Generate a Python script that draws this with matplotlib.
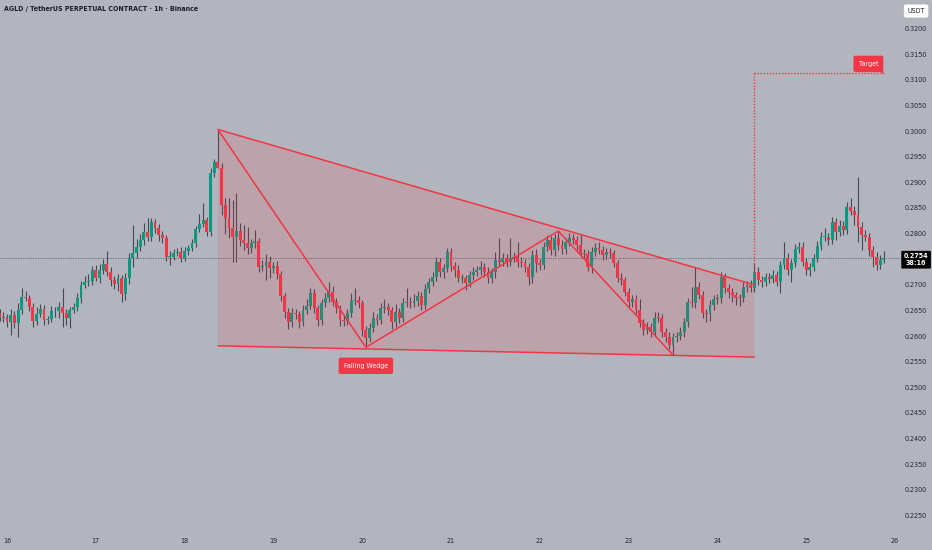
import matplotlib
matplotlib.use("Agg")
import matplotlib.pyplot as plt
from matplotlib.patches import Polygon
import numpy as np

plt.rcParams['font.family'] = ['DejaVu Sans']
plt.rcParams['font.stretch'] = 'condensed'

# ---------------- data ----------------
title = "AGLD / TetherUS PERPETUAL CONTRACT · 1h · Binance"
first_open = 0.2646
closes = [
    0.2637, 0.2638, 0.2629, 0.2642, 0.2627, 0.2652, 0.2677, 0.2676, 0.2658, 0.2631, 0.2644, 0.2654,
    0.2633, 0.2635, 0.2650, 0.2649, 0.2658, 0.2646, 0.2637, 0.2652, 0.2658, 0.2676, 0.2701, 0.2707,
    0.2709, 0.2730, 0.2715, 0.2730, 0.2742, 0.2726, 0.2711, 0.2703, 0.2715, 0.2683, 0.2715, 0.2754,
    0.2763, 0.2775, 0.2789, 0.2804, 0.2794, 0.2824, 0.2812, 0.2798, 0.2793, 0.2755, 0.2756, 0.2763,
    0.2765, 0.2754, 0.2767, 0.2773, 0.2783, 0.2810, 0.2820, 0.2828, 0.2804, 0.2919, 0.2941, 0.2929,
    0.2857, 0.2831, 0.2812, 0.2794, 0.2806, 0.2789, 0.2783, 0.2773, 0.2783, 0.2787, 0.2736, 0.2738,
    0.2746, 0.2734, 0.2738, 0.2722, 0.2679, 0.2648, 0.2629, 0.2646, 0.2644, 0.2629, 0.2652, 0.2660,
    0.2685, 0.2656, 0.2633, 0.2666, 0.2676, 0.2687, 0.2668, 0.2656, 0.2633, 0.2631, 0.2646, 0.2670,
    0.2672, 0.2666, 0.2613, 0.2598, 0.2617, 0.2637, 0.2633, 0.2656, 0.2658, 0.2652, 0.2629, 0.2648,
    0.2637, 0.2666, 0.2668, 0.2665, 0.2670, 0.2679, 0.2662, 0.2693, 0.2707, 0.2716, 0.2746, 0.2726,
    0.2734, 0.2765, 0.2738, 0.2730, 0.2715, 0.2714, 0.2705, 0.2720, 0.2726, 0.2730, 0.2736, 0.2726,
    0.2715, 0.2726, 0.2750, 0.2746, 0.2754, 0.2746, 0.2754, 0.2755, 0.2746, 0.2744, 0.2736, 0.2716,
    0.2759, 0.2744, 0.2740, 0.2775, 0.2789, 0.2769, 0.2793, 0.2779, 0.2771, 0.2785, 0.2793, 0.2789,
    0.2779, 0.2763, 0.2762, 0.2736, 0.2765, 0.2773, 0.2769, 0.2759, 0.2765, 0.2763, 0.2744, 0.2715,
    0.2711, 0.2687, 0.2668, 0.2674, 0.2652, 0.2627, 0.2613, 0.2619, 0.2609, 0.2637, 0.2636, 0.2609,
    0.2599, 0.2584, 0.2599, 0.2601, 0.2609, 0.2629, 0.2668, 0.2666, 0.2697, 0.2681, 0.2646, 0.2645,
    0.2662, 0.2674, 0.2676, 0.2716, 0.2695, 0.2687, 0.2681, 0.2676, 0.2675, 0.2697, 0.2701, 0.2695,
    0.2726, 0.2711, 0.2707, 0.2716, 0.2713, 0.2720, 0.2707, 0.2740, 0.2754, 0.2730, 0.2744, 0.2771,
    0.2775, 0.2746, 0.2730, 0.2736, 0.2754, 0.2777, 0.2794, 0.2795, 0.2789, 0.2824, 0.2804, 0.2816,
    0.2808, 0.2853, 0.2845, 0.2837, 0.2814, 0.2798, 0.2794, 0.2769, 0.2755, 0.2740, 0.2750, 0.2754,
]
# upper / lower wick lengths in units of 0.0001
wick_up = [
    8, 10, 6, 12, 8, 14, 18, 12, 6, 8, 14, 10,
    8, 6, 10, 8, 10, 37, 8, 6, 8, 10, 8, 12,
    14, 8, 10, 12, 10, 25, 10, 8, 8, 6, 10, 10,
    55, 15, 12, 18, 27, 8, 6, 8, 8, 6, 10, 8,
    8, 10, 8, 6, 8, 6, 20, 33, 6, 10, 6, 63,
    10, 14, 40, 54, 74, 15, 29, 30, 8, 20, 6, 12,
    15, 12, 8, 10, 6, 6, 8, 10, 8, 6, 10, 14,
    10, 8, 6, 8, 10, 20, 12, 8, 6, 8, 8, 15,
    23, 8, 6, 8, 10, 10, 8, 10, 15, 8, 6, 15,
    8, 10, 27, 10, 14, 10, 8, 10, 8, 10, 10, 8,
    8, 8, 8, 8, 10, 8, 6, 8, 10, 8, 12, 8,
    10, 8, 15, 43, 10, 8, 39, 10, 30, 10, 8, 8,
    10, 12, 8, 10, 10, 8, 8, 13, 10, 8, 10, 8,
    8, 21, 8, 6, 10, 10, 12, 8, 8, 8, 6, 6,
    10, 6, 8, 8, 8, 22, 8, 10, 8, 10, 10, 8,
    8, 10, 8, 8, 10, 8, 8, 29, 39, 10, 8, 8,
    10, 8, 8, 10, 8, 8, 8, 6, 8, 10, 8, 10,
    18, 10, 8, 8, 8, 10, 8, 8, 31, 10, 8, 10,
    10, 10, 8, 8, 8, 10, 10, 17, 8, 10, 8, 12,
    10, 10, 18, 10, 74, 10, 10, 8, 8, 10, 10, 12,
]
wick_dn = [
    6, 8, 10, 26, 10, 28, 8, 6, 8, 12, 8, 6,
    10, 8, 6, 10, 12, 27, 14, 20, 6, 8, 10, 6,
    8, 8, 6, 10, 8, 8, 12, 10, 14, 16, 12, 12,
    18, 10, 8, 10, 8, 8, 10, 12, 10, 8, 15, 6,
    6, 8, 6, 8, 6, 8, 6, 6, 8, 8, 8, 0,
    20, 30, 20, 48, 48, 12, 15, 12, 10, 10, 10, 8,
    27, 20, 10, 10, 10, 12, 15, 10, 10, 12, 8, 8,
    6, 10, 12, 10, 8, 8, 8, 10, 12, 10, 8, 8,
    8, 10, 12, 19, 8, 8, 10, 8, 10, 10, 14, 10,
    10, 8, 8, 10, 8, 10, 10, 8, 8, 8, 8, 10,
    12, 8, 10, 14, 8, 10, 14, 8, 10, 8, 10, 10,
    10, 11, 11, 8, 8, 10, 8, 8, 10, 8, 10, 15,
    12, 18, 10, 8, 8, 10, 12, 10, 10, 10, 8, 8,
    10, 8, 10, 8, 12, 8, 8, 10, 8, 10, 8, 8,
    10, 8, 10, 10, 8, 8, 10, 8, 10, 8, 8, 10,
    10, 8, 20, 10, 8, 10, 10, 8, 10, 8, 10, 16,
    15, 10, 10, 10, 10, 12, 14, 14, 15, 8, 10, 8,
    8, 10, 10, 8, 8, 8, 8, 22, 8, 10, 23, 8,
    8, 8, 10, 12, 8, 8, 8, 8, 10, 8, 15, 8,
    10, 8, 8, 20, 29, 29, 8, 12, 20, 10, 8, 6,
]
day_labels = ['16', '17', '18', '19', '20', '21', '22', '23', '24', '25', '26']
day_first_index = 2          # candle index of day 16, 00:00
bars_per_day = 24
# 0.2750 is hidden behind the last-price badge in the reference
price_ticks = [0.2250, 0.2300, 0.2350, 0.2400, 0.2450, 0.2500, 0.2550, 0.2600, 0.2650,
               0.2700, 0.2800, 0.2850, 0.2900, 0.2950, 0.3000, 0.3050, 0.3100,
               0.3150, 0.3200]
last_price = 0.2754
countdown = "38:16"
currency = "USDT"

# drawing anchors (candle index, price)
wedge_upper = [(59, 0.3004), (204, 0.2701)]
wedge_lower = [(59, 0.2582), (204, 0.2560)]
zigzag = [(59, 0.3004), (99, 0.2579), (151, 0.2806), (182, 0.2564)]
target_price = 0.3114
target_start, target_end = 204, 239
wedge_label = ("Falling Wedge", 99, 0.2543)
target_label = ("Target", 234.8, 0.3132)

assert len(closes) == len(wick_up) == len(wick_dn) == 240

# ---------------- style ----------------
BG = '#b2b5be'
GREEN = '#089981'
RED = '#f23645'
WICK = '#464852'
TXT = '#23262f'

fig = plt.figure(figsize=(9.32, 5.5), dpi=100, facecolor=BG)
ax = fig.add_axes([0, 0, 1, 1])
ax.set_facecolor(BG)
ax.set_xlim(0.108, 252.0)
ax.set_ylim(0.21837, 0.32566)
ax.axis('off')

n = len(closes)
idx = np.arange(n)
cl = np.array(closes)
op = np.array([first_open] + closes[:-1])
hi = np.maximum(op, cl) + np.array(wick_up) * 1e-4
lo = np.minimum(op, cl) - np.array(wick_dn) * 1e-4
colors = np.where(cl >= op, GREEN, RED)

ax.vlines(idx, lo, hi, color=WICK, lw=0.8, zorder=2)
ax.bar(idx, np.maximum(np.abs(cl - op), 0.00014), bottom=np.minimum(op, cl),
       width=0.78, color=colors, linewidth=0, zorder=3)

# last price line
ax.hlines(last_price, 0.108, 244.6, color='#5f626d', lw=0.6,
          linestyles=(0, (1.5, 1.5)), zorder=1)

# falling wedge fill and lines
poly = Polygon([wedge_upper[0], wedge_upper[1], wedge_lower[1], wedge_lower[0]],
               closed=True, facecolor=RED, alpha=0.15, edgecolor='none', zorder=4)
ax.add_patch(poly)
for seg in (wedge_upper, wedge_lower, zigzag):
    xs, ys = zip(*seg)
    ax.plot(xs, ys, color=RED, lw=1.1, zorder=5, solid_capstyle='round')

# target projection
ax.plot([target_start, target_start], [wedge_upper[1][1], target_price],
        color=RED, lw=1.0, ls=(0, (1, 1.2)), zorder=5)
ax.plot([target_start, target_end], [target_price, target_price],
        color=RED, lw=1.0, ls=(0, (1, 1.2)), zorder=5)

lbl_font = dict(fontsize=5.0, color='white', ha='center', va='center', zorder=7)
t, lx, ly = wedge_label
ax.text(lx, ly, t, bbox=dict(boxstyle='round,pad=0.75,rounding_size=0.3',
                             facecolor=RED, edgecolor='none'), **lbl_font)
t, lx, ly = target_label
ax.text(lx, ly, t, bbox=dict(boxstyle='round,pad=0.75,rounding_size=0.3',
                             facecolor=RED, edgecolor='none'), **lbl_font)
ax.add_patch(Polygon([(237.6, 0.31195), (target_end, target_price - 0.0003), (238.4, 0.3125)],
                     closed=True, facecolor=RED, edgecolor='none', zorder=6))

# price scale labels
x_lab = 247.7
for p in price_ticks:
    ax.text(x_lab, p, f"{p:.4f}", fontsize=5.1, color=TXT, ha='center', va='center', zorder=6)
ax.text(x_lab, last_price - 0.0004, f"{last_price:.4f}\n{countdown}", fontsize=5.1,
        color='white', ha='center', va='center', linespacing=1.15, zorder=8, fontweight='bold',
        bbox=dict(boxstyle='round,pad=0.35,rounding_size=0.15', facecolor='black', edgecolor='none'))
ax.text(x_lab, 0.32351, currency, fontsize=5.1, color=TXT, ha='center', va='center', zorder=8,
        bbox=dict(boxstyle='round,pad=0.5,rounding_size=0.3', facecolor='white', edgecolor='none'))

# time scale labels
for k, lab in enumerate(day_labels):
    ax.text(day_first_index + bars_per_day * k, 1 - 541 / 550, lab, fontsize=5.1, color=TXT,
            ha='center', va='center', transform=ax.get_xaxis_transform())

fig.text(4 / 932, 1 - 9 / 550, title, fontsize=5.0, color='#1a1d26', ha='left', va='center',
         fontweight='bold')

fig.savefig('out.png', dpi=100, facecolor=BG)
